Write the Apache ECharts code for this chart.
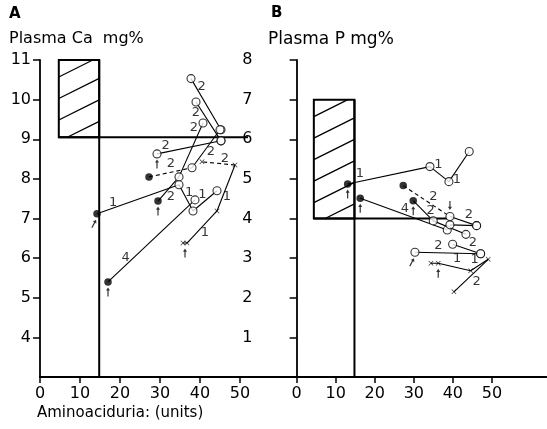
<!DOCTYPE html>
<html>
<head>
<meta charset="utf-8">
<script src="https://cdn.jsdelivr.net/npm/echarts@6/dist/echarts.min.js"></script>
<style>
html, body { margin: 0; padding: 0; background: #fff; }
#chart { width: 547px; height: 429px; }
</style>
</head>
<body>
<div id="chart"></div>
<script>
// tick values
var xTicks = [0, 10, 20, 30, 40, 50];
var caTicks = [4, 5, 6, 7, 8, 9, 10, 11];
var pTicks = [1, 2, 3, 4, 5, 6, 7, 8];

// normal range boxes [x0, x1, y0, y1] and the guide lines
var caBox = [4.7, 14.8, 9.05, 11];
var caGuideH = [[4.7, 9.05], [52, 9.05]];
var caGuideV = [[14.8, 3], [14.8, 11]];
var pBox = [4.4, 14.8, 4, 7];
var pGuideH = [[4.4, 4], [38.5, 4]];
var pGuideV = [[14.8, 0], [14.8, 7]];

// A: plasma Ca, each patient [aminoaciduria, Ca, mark]  (f filled, o open, x cross)
var caLines = [
  [[37.75, 10.53, 'o'], [45.25, 9.24, 'o']],
  [[39, 9.94, 'o'], [45.25, 8.96, 'o']],
  [[29.25, 8.63, 'o'], [45.25, 8.96, 'o']],
  [[27.25, 8.05, 'f'], [38, 8.28, 'o'], [45, 9.24, 'o']],
  [[29.5, 7.44, 'f'], [34.75, 8.05, 'o'], [40.75, 9.41, 'o']],
  [[14.25, 7.12, 'f'], [34.75, 7.85, 'o'], [38.25, 7.19, 'o'], [44.25, 7.70, 'o']],
  [[17, 5.40, 'f'], [38.75, 7.47, 'o']],
  [[35.75, 6.38, 'x'], [36.75, 6.38, 'x'], [44.25, 7.19, 'x'], [48.75, 8.35, 'x'], [40.5, 8.43, 'x']]
];
var caDashed = [[3, 0], [7, 3]];
var caArrows = [[29.25, 8.63, 'up'], [29.5, 7.44, 'up'], [14.25, 7.12, 'slant'], [17, 5.40, 'up'], [36.25, 6.38, 'up']];
var caLabels = [
  [40.4, 10.32, '2'], [39.0, 9.68, '2'], [38.5, 9.30, '2'], [31.4, 8.84, '2'],
  [42.7, 8.69, '2'], [32.7, 8.38, '2'], [46.25, 8.50, '2'], [18.3, 7.41, '1'],
  [32.7, 7.55, '2'], [37.3, 7.65, '1'], [40.6, 7.61, '1'], [46.7, 7.54, '1'],
  [41.25, 6.65, '1'], [21.4, 6.01, '4']
];

// B: plasma P
var pLines = [
  [[13.06, 4.87, 'f'], [34.13, 5.31, 'o'], [38.99, 4.93, 'o'], [44.19, 5.69, 'o']],
  [[16.28, 4.51, 'f'], [38.56, 3.71, 'o']],
  [[27.29, 4.83, 'f'], [39.25, 4.05, 'o'], [46.08, 3.82, 'o']],
  [[29.85, 4.45, 'f'], [34.97, 3.94, 'o'], [43.34, 3.60, 'o']],
  [[39.25, 3.84, 'o'], [46.08, 3.82, 'o']],
  [[30.29, 3.15, 'o'], [47.11, 3.11, 'o']],
  [[39.94, 3.35, 'o'], [47.11, 3.11, 'o']],
  [[34.38, 2.87, 'x'], [36.25, 2.87, 'x'], [44.55, 2.68, 'x'], [49.05, 2.97, 'x'], [40.27, 2.15, 'x']]
];
var pDashed = [[2, 0]];
var pArrows = [[13.06, 4.87, 'up'], [16.28, 4.51, 'up'], [29.85, 4.45, 'up'], [39.25, 4.05, 'down'], [30.29, 3.15, 'slant'], [36.25, 2.87, 'up']];
var pLabels = [
  [16.2, 5.13, '1'], [36.3, 5.35, '1'], [41.0, 4.99, '1'], [35.0, 4.55, '2'],
  [34.3, 4.19, '2'], [27.7, 4.24, '4'], [44.1, 4.09, '2'], [45.1, 3.39, '2'],
  [36.3, 3.31, '2'], [41.1, 2.98, '1'], [45.6, 2.97, '1'], [46.1, 2.41, '2']
];

var FONT = 'DejaVu Sans';
var arrowPath = 'path://M-0.6,3 L0.6,3 L0.6,10 L-0.6,10 Z M-2,3.5 L0,0 L2,3.5 Z';
var crossPath = 'path://M0,1 L1,0 L5,4 L9,0 L10,1 L6,5 L10,9 L9,10 L5,6 L1,10 L0,9 L4,5 Z';

function renderBox(params, api) {
  var tl = api.coord([api.value(0), api.value(3)]);
  var br = api.coord([api.value(1), api.value(2)]);
  var x0 = tl[0], y0 = tl[1], w = br[0] - tl[0], h = br[1] - tl[1];
  var slope = 0.5, gap = 21.5, first = 17;
  var kids = [{
    type: 'rect', shape: { x: x0, y: y0, width: w, height: h },
    style: { fill: 'none', stroke: '#000', lineWidth: 2 }
  }];
  for (var c = first; c < h + slope * w; c += gap) {
    var xa = Math.max(x0, x0 + (c - h) / slope);
    var xb = Math.min(x0 + w, x0 + c / slope);
    if (xb <= xa) continue;
    kids.push({
      type: 'line',
      shape: { x1: xa, y1: y0 + c - slope * (xa - x0), x2: xb, y2: y0 + c - slope * (xb - x0) },
      style: { stroke: '#000', lineWidth: 1.3 }
    });
  }
  return { type: 'group', children: kids };
}

function panel(g, lines, dashed, arrows, labels, box, guideH, guideV) {
  var out = [];
  out.push({
    type: 'custom', xAxisIndex: g, yAxisIndex: g, data: [box],
    renderItem: renderBox, silent: true, z: 1
  });
  [guideH, guideV].forEach(function (d) {
    out.push({
      type: 'line', xAxisIndex: g, yAxisIndex: g, data: d, symbol: 'none',
      lineStyle: { color: '#000', width: 2 }, silent: true, z: 1
    });
  });
  lines.forEach(function (pts, i) {
    for (var s = 0; s < pts.length - 1; s++) {
      var isDash = dashed.some(function (d) { return d[0] === i && d[1] === s; });
      out.push({
        type: 'line', xAxisIndex: g, yAxisIndex: g,
        data: [[pts[s][0], pts[s][1]], [pts[s + 1][0], pts[s + 1][1]]],
        symbol: 'none', silent: true, z: 2,
        lineStyle: { color: '#000', width: 1.1, type: isDash ? [4, 3] : 'solid' }
      });
    }
  });
  function marks(kind) {
    var r = [];
    lines.forEach(function (pts) {
      pts.forEach(function (p) { if (p[2] === kind) r.push([p[0], p[1]]); });
    });
    return r;
  }
  out.push({
    type: 'scatter', xAxisIndex: g, yAxisIndex: g, data: marks('o'), symbol: 'circle',
    symbolSize: 8, itemStyle: { color: '#fff', borderColor: '#000', borderWidth: 1.1 }, z: 4, silent: true
  });
  out.push({
    type: 'scatter', xAxisIndex: g, yAxisIndex: g, data: marks('f'), symbol: 'circle',
    symbolSize: 7.5, itemStyle: { color: '#000' }, z: 4, silent: true
  });
  out.push({
    type: 'scatter', xAxisIndex: g, yAxisIndex: g, data: marks('x'), symbol: crossPath,
    symbolSize: 5, itemStyle: { color: '#000' }, z: 4, silent: true
  });
  out.push({
    type: 'scatter', xAxisIndex: g, yAxisIndex: g, silent: true, z: 4,
    data: arrows.map(function (a) {
      var rot = a[2] === 'down' ? 180 : (a[2] === 'slant' ? -28 : 0);
      var off = a[2] === 'down' ? [0, -11] : (a[2] === 'slant' ? [-3, 10] : [0, 10]);
      return { value: [a[0], a[1]], symbolRotate: rot, symbolOffset: off };
    }),
    symbol: arrowPath, symbolSize: [4, 9], itemStyle: { color: '#000' }
  });
  out.push({
    type: 'scatter', xAxisIndex: g, yAxisIndex: g, silent: true, z: 5,
    data: labels.map(function (l) { return { value: [l[0], l[1]], name: l[2] }; }),
    symbolSize: 1, itemStyle: { color: 'rgba(0,0,0,0)' },
    label: {
      show: true, position: 'inside', color: '#000', fontSize: 13, fontFamily: FONT,
      formatter: function (p) { return p.name; }
    }
  });
  return out;
}

function xAxisOf(g, min, max) {
  return {
    gridIndex: g, type: 'value', min: min, max: max,
    splitLine: { show: false },
    axisLine: { lineStyle: { color: '#000', width: 1.8 } },
    axisTick: { customValues: xTicks, length: 6, lineStyle: { color: '#000', width: 1.5 } },
    axisLabel: { customValues: xTicks, color: '#000', fontSize: 16, fontFamily: FONT, margin: 9 }
  };
}
function yAxisOf(g, min, max, ticks) {
  return {
    gridIndex: g, type: 'value', min: min, max: max,
    splitLine: { show: false },
    axisLine: { onZero: true, lineStyle: { color: '#000', width: 1.8 } },
    axisTick: { customValues: ticks, length: 7, lineStyle: { color: '#000', width: 1.5 } },
    axisLabel: { customValues: ticks, color: '#000', fontSize: 16, fontFamily: FONT, margin: 9 }
  };
}

var chart = echarts.init(document.getElementById('chart'), null, { renderer: 'canvas' });
var option = {
  backgroundColor: '#fff',
  animation: false,
  grid: [
    { left: 40, top: 60, width: 230, height: 317, outerBoundsMode: 'none' },
    { left: 261.5, top: 60, width: 285.1, height: 317, outerBoundsMode: 'none' }
  ],
  xAxis: [xAxisOf(0, 0, 57.5), xAxisOf(1, -9, 64)],
  yAxis: [yAxisOf(0, 3, 11, caTicks), yAxisOf(1, 0, 8, pTicks)],
  graphic: [
    { type: 'text', left: 9, top: 7, style: { text: 'A', font: 'bold 15px "DejaVu Sans"', fill: '#000' } },
    { type: 'text', left: 9, top: 31, style: { text: 'Plasma Ca  mg%', font: '16px "DejaVu Sans"', fill: '#000' } },
    { type: 'text', left: 271, top: 6, style: { text: 'B', font: 'bold 15px "DejaVu Sans"', fill: '#000' } },
    { type: 'text', left: 268, top: 31, style: { text: 'Plasma P mg%', font: '17px "DejaVu Sans"', fill: '#000' } },
    { type: 'text', left: 37, top: 406, style: { text: 'Aminoaciduria: (units)', font: '15px "DejaVu Sans"', fill: '#000' } }
  ],
  series: panel(0, caLines, caDashed, caArrows, caLabels, caBox, caGuideH, caGuideV)
    .concat(panel(1, pLines, pDashed, pArrows, pLabels, pBox, pGuideH, pGuideV))
};
chart.setOption(option);
</script>
</body>
</html>
